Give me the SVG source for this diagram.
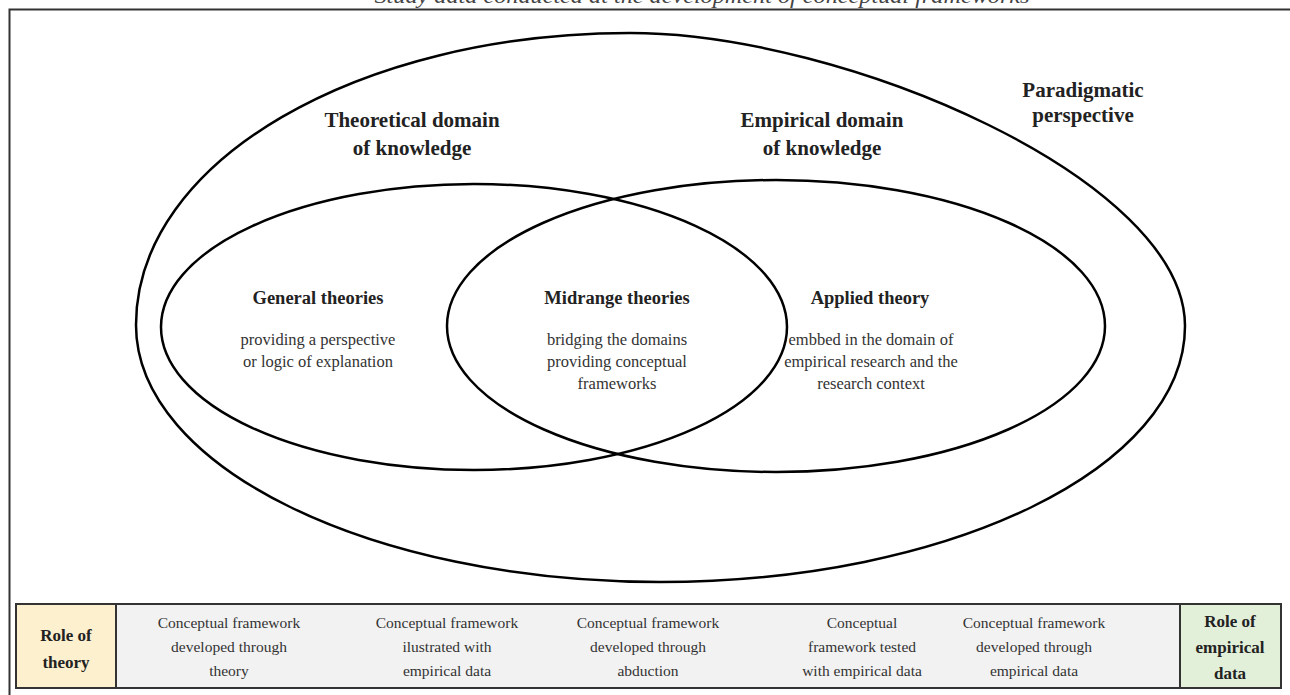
<svg xmlns="http://www.w3.org/2000/svg" width="1290" height="695" viewBox="0 0 1290 695">
<style>
.ell{fill:none;stroke:#000;stroke-width:2.5}
.h{font-family:"Liberation Serif",serif;font-weight:bold;font-size:21px;fill:#222;text-anchor:middle}
.s{font-family:"Liberation Serif",serif;font-size:16.5px;fill:#333;text-anchor:middle}
.sh{font-family:"Liberation Serif",serif;font-weight:bold;font-size:18.5px;fill:#222;text-anchor:middle}
.t{font-family:"Liberation Serif",serif;font-size:15.5px;fill:#333;text-anchor:middle}
.tb{font-family:"Liberation Serif",serif;font-weight:bold;font-size:17px;fill:#222;text-anchor:middle}
</style>
<rect width="1290" height="695" fill="#fff"/>
<text x="702" y="3" font-family="Liberation Serif,serif" font-style="italic" font-size="20" fill="#444" text-anchor="middle" textLength="655" lengthAdjust="spacingAndGlyphs">Study data conducted at the development of conceptual frameworks</text>
<rect x="9.5" y="9.5" width="1290" height="700" fill="none" stroke="#333" stroke-width="2"/>
<g id="paradigm">
<path class="ell" d="M136,325 C136,160 360,33 630,33 C845,33 1185,180 1185,326 C1185,468 950,582 660,582 C371,582 136,467 136,325 Z"/>
<text class="h" x="1083" y="97">Paradigmatic</text>
<text class="h" x="1083" y="122">perspective</text>
</g>
<g id="theoretical">
<ellipse class="ell" cx="474" cy="327" rx="313" ry="143"/>
<text class="h" x="412" y="127">Theoretical domain</text>
<text class="h" x="412" y="155">of knowledge</text>
</g>
<g id="empirical">
<ellipse class="ell" cx="776" cy="326" rx="329" ry="146"/>
<text class="h" x="822" y="127">Empirical domain</text>
<text class="h" x="822" y="155">of knowledge</text>
</g>
<g id="general">
<text class="sh" x="318" y="304">General theories</text>
<text class="s" x="318" y="345">providing a perspective</text>
<text class="s" x="318" y="367">or logic of explanation</text>
</g>
<g id="midrange">
<text class="sh" x="617" y="304">Midrange theories</text>
<text class="s" x="617" y="345">bridging the domains</text>
<text class="s" x="617" y="367">providing conceptual</text>
<text class="s" x="617" y="389">frameworks</text>
</g>
<g id="applied">
<text class="sh" x="870" y="304">Applied theory</text>
<text class="s" x="871" y="345">embbed in the domain of</text>
<text class="s" x="871" y="367">empirical research and the</text>
<text class="s" x="871" y="389">research context</text>
</g>
<g id="table">
<rect x="16" y="604" width="1265" height="84" fill="#F2F2F2" stroke="#333" stroke-width="2"/>
<rect x="16" y="604" width="100" height="84" fill="#FDF0CF" stroke="#333" stroke-width="2"/>
<rect x="1180" y="604" width="101" height="84" fill="#E2EFD9" stroke="#333" stroke-width="2"/>
<text class="tb" x="66" y="641">Role of</text>
<text class="tb" x="66" y="668">theory</text>
<text class="tb" x="1230" y="627">Role of</text>
<text class="tb" x="1230" y="653">empirical</text>
<text class="tb" x="1230" y="679">data</text>
<text class="t" x="229" y="628">Conceptual framework</text>
<text class="t" x="229" y="652">developed through</text>
<text class="t" x="229" y="676">theory</text>
<text class="t" x="447" y="628">Conceptual framework</text>
<text class="t" x="447" y="652">ilustrated with</text>
<text class="t" x="447" y="676">empirical data</text>
<text class="t" x="648" y="628">Conceptual framework</text>
<text class="t" x="648" y="652">developed through</text>
<text class="t" x="648" y="676">abduction</text>
<text class="t" x="862" y="628">Conceptual</text>
<text class="t" x="862" y="652">framework tested</text>
<text class="t" x="862" y="676">with empirical data</text>
<text class="t" x="1034" y="628">Conceptual framework</text>
<text class="t" x="1034" y="652">developed through</text>
<text class="t" x="1034" y="676">empirical data</text>
</g>
</svg>
